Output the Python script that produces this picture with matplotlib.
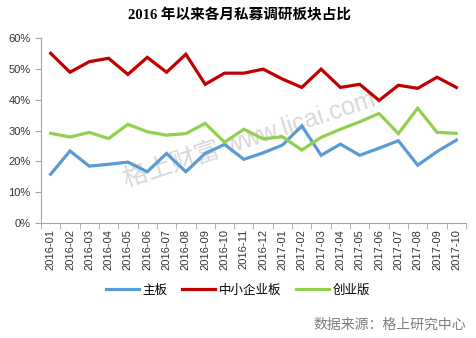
import numpy as np
import matplotlib
matplotlib.use("Agg")
import matplotlib.pyplot as plt
from matplotlib.ticker import PercentFormatter

plt.rcParams['font.family'] = ['Liberation Sans', 'Noto Sans CJK SC', 'DejaVu Sans']

# 数据
months = ['2016-01', '2016-02', '2016-03', '2016-04', '2016-05', '2016-06',
          '2016-07', '2016-08', '2016-09', '2016-10', '2016-11', '2016-12',
          '2017-01', '2017-02', '2017-03', '2017-04', '2017-05', '2017-06',
          '2017-07', '2017-08', '2017-09', '2017-10']
main_board = [15.9, 23.4, 18.5, 19.1, 19.8, 16.7, 22.6, 16.7, 22.6, 25.5, 20.7,
              22.8, 25.3, 31.5, 22.0, 25.6, 22.0, 24.3, 26.7, 18.8, 23.2, 26.9]
sme_board = [54.9, 48.8, 52.2, 53.3, 48.1, 53.6, 48.8, 54.6, 44.9, 48.5, 48.5,
             49.8, 46.6, 43.9, 49.8, 43.9, 44.9, 39.7, 44.6, 43.6, 47.2, 43.9]
gem_board = [29.1, 27.9, 29.4, 27.4, 32.0, 29.6, 28.5, 29.0, 32.3, 26.2, 30.4,
             27.3, 28.0, 23.7, 27.8, 30.4, 32.8, 35.5, 29.0, 37.2, 29.4, 29.1]
series_names = ['主板', '中小企业板', '创业版']

fig = plt.figure(figsize=(4.76, 3.38), dpi=100)
ax = fig.add_axes([0.0861, 0.3388, 0.8929, 0.5502])

x = np.arange(len(months))
colors = ['#5B9BD5', '#C00000', '#92D050']
for vals, name, c in zip([main_board, sme_board, gem_board], series_names, colors):
    ax.plot(x, np.array(vals) / 100, color=c, lw=2.3, label=name,
            solid_joinstyle='miter', zorder=3)

ax.set_xlim(-0.5, len(months) - 0.5)
ax.set_ylim(0, 0.6)
ax.set_yticks(np.arange(0, 0.61, 0.1))
ax.yaxis.set_major_formatter(PercentFormatter(1.0, decimals=0))
ax.set_xticks(x)
ax.set_xticklabels(months, rotation=90, fontsize=8, color='#333333')
ax.set_xticks(np.arange(-0.5, len(months), 1), minor=True)
ax.tick_params(axis='x', which='major', length=0, pad=4)
ax.tick_params(axis='x', which='minor', length=4, color='#a6a6a6', direction='out')
ax.tick_params(axis='y', length=4, color='#a6a6a6', labelsize=8, labelcolor='#333333')

for s in ['top', 'right']:
    ax.spines[s].set_visible(False)
for s in ['left', 'bottom']:
    ax.spines[s].set_color('#a6a6a6')

# 水印
ax.text(0.49, 0.45, '格上财富 www.licai.com', transform=ax.transAxes,
        fontsize=18, color='#cfcfcf', alpha=0.8, rotation=18,
        ha='center', va='center', zorder=2,
        family=['Liberation Sans', 'Noto Sans CJK SC'])

fig.text(0.504, 0.955, '2016 年以来各月私募调研板块占比', ha='center', va='center',
         fontsize=10.5, fontweight='bold',
         family=['Liberation Serif', 'Noto Sans CJK SC'])

fig.legend(loc='center', bbox_to_anchor=(0.5, 0.142), ncol=3, frameon=False,
           handlelength=2.6, columnspacing=1.2, handletextpad=0.3,
           prop={'family': ['Noto Sans CJK SC'], 'size': 9})

fig.text(0.979, 0.038, '数据来源：格上研究中心', ha='right', va='center',
         fontsize=10, color='#7f7f7f', family=['Noto Sans CJK SC'])

fig.savefig('out.png', dpi=100)
